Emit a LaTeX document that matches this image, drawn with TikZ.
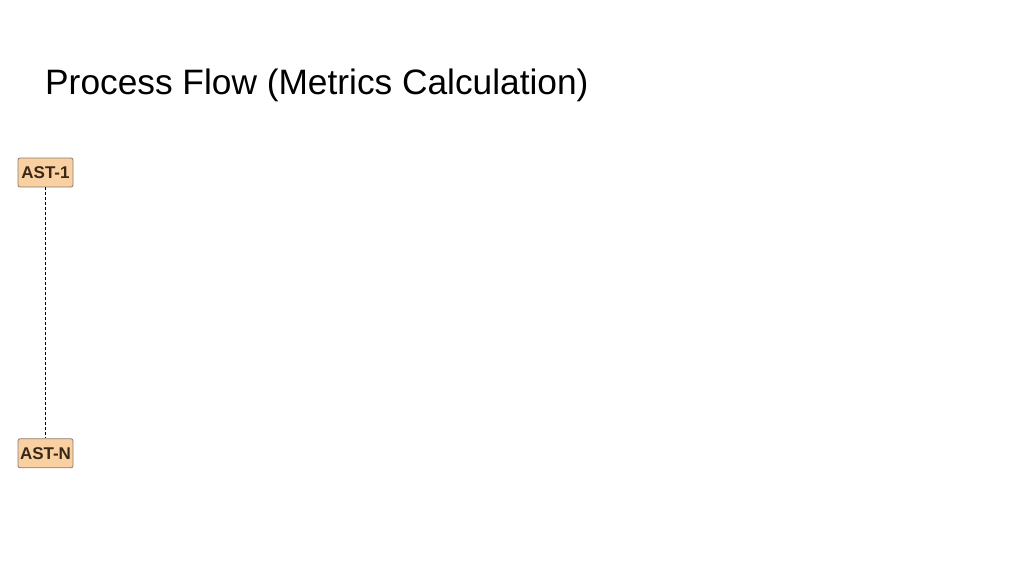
\documentclass[tikz,border=0pt]{standalone}
\usepackage{fontspec}
\setmainfont{Liberation Sans}
\usetikzlibrary{positioning}
\definecolor{astfill}{HTML}{F9D0A2}
\definecolor{astdraw}{HTML}{8C7B6B}
\definecolor{asttext}{HTML}{3A2718}
\tikzset{
  ast/.style={
    rectangle, rounded corners=2pt, minimum width=55pt, minimum height=29pt,
    inner sep=1pt, text centered, draw=astdraw, fill=astfill, line width=0.8pt,
    text=asttext, font=\fontsize{17}{17}\selectfont\bfseries
  },
  lifeline/.style={
    draw=black, line width=1pt, dash pattern=on 3pt off 2pt
  }
}

\begin{document}
\begin{tikzpicture}[x=1pt, y=1pt]

% Frame
\useasboundingbox (0,0) rectangle (1024,-576);

% Title
\node[anchor=base west, inner sep=0pt, font=\fontsize{35.3}{35.3}\selectfont] (title) at (45,-94) {Process Flow (Metrics Calculation)};

% Nodes
\node[ast] (ast1) at (45.5,-172.5) {AST-1};
\node[ast, below=251pt of ast1] (astN) {AST-N};

% Connector
\draw[lifeline] (ast1) -- (astN);

\end{tikzpicture}
\end{document}
